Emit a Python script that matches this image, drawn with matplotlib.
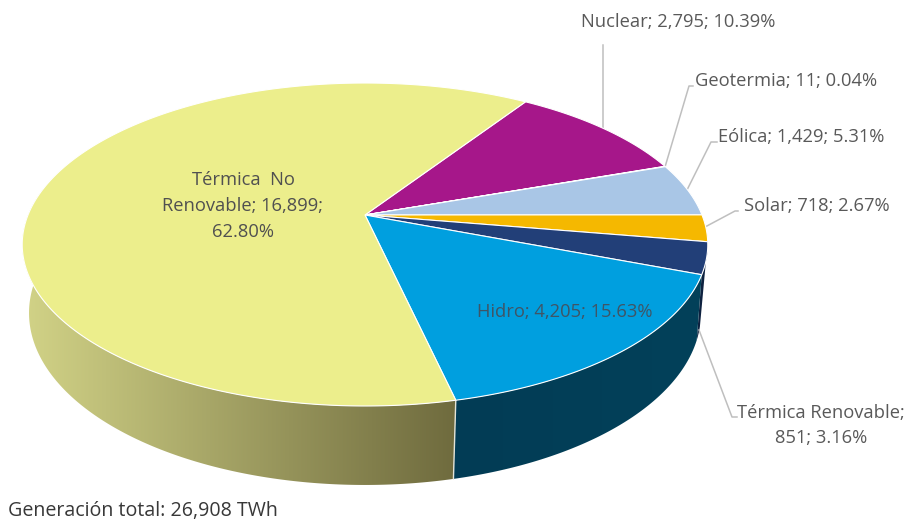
import numpy as np
import matplotlib
matplotlib.use('Agg')
from matplotlib import pyplot as plt
from matplotlib.colors import LinearSegmentedColormap
from matplotlib.patches import Polygon

names = ['Nuclear', 'Geotermia', 'Eólica', 'Solar', 'Térmica Renovable', 'Hidro', 'Térmica  No Renovable']
values = [2795, 11, 1429, 718, 851, 4205, 16899]
colors = ['#a6178a', '#7f7f7f', '#a9c6e6', '#f5b800', '#223f78', '#009fdf', '#ecee8c']
footer = 'Generación total: 26,908 TWh'

plt.rcParams['font.family'] = ['Open Sans', 'DejaVu Sans']
txt = '#595959'
line = '#bfbfbf'

# pie geometry, in pixels of the picture
start = 56.7
cx = 365
top = (215, 337, 156.1, 0.1827)   # y of apex, R, H, perspective
bottom = (298, 334.7, 170.7, 0.087)
# the walls do not meet the foot at the same angle as the top face
foot = -14
cut_foot = -76


def project(theta, geo):
    y0, R, H, k = geo
    t = np.radians(theta)
    u = np.cos(t)
    v = np.sin(t)
    s = 1 / (1 + k * v)
    return cx + R * u * s, y0 - H * v * s


def arc(t1, t2, geo):
    n = max(int(abs(t1 - t2) * 2), 2)
    return project(np.linspace(t1, t2, n), geo)


def wall(t1, t2, b1, b2, c1, c2):
    x1, y1 = arc(t1, t2, top)
    x2, y2 = arc(b1, b2, bottom)
    pts = np.column_stack([np.r_[x1, x2[::-1]], np.r_[y1, y2[::-1]]])
    poly = Polygon(pts, closed=True, facecolor='none', edgecolor='none')
    ax.add_patch(poly)
    xa = pts[:, 0].min()
    xb = pts[:, 0].max()
    cmap = LinearSegmentedColormap.from_list('w', [c1, c2])
    im = ax.imshow(np.linspace(0, 1, 256).reshape(1, -1), cmap=cmap, aspect='auto',
                   extent=(xa, xb, pts[:, 1].max(), pts[:, 1].min()), zorder=1)
    im.set_clip_path(poly)


fig = plt.figure(figsize=(9.06, 5.2), dpi=100)
ax = fig.add_axes([0, 0, 1, 1])

frac = np.array(values) / sum(values) * 360
ends = start - np.cumsum(frac)
starts = ends + frac

# side walls, only the ones seen from the front
wall(starts[4], ends[4], starts[4], foot, '#0e2240', '#0e2240')
wall(starts[5], ends[5], foot, cut_foot, '#023c55', '#03415a')
wall(ends[5], -190, cut_foot, -190, '#d2d387', '#6f6b3e')

# cut edge between hidro and termica
x1, y1 = project(ends[5], top)
x2, y2 = project(cut_foot, bottom)
ax.plot([x1, x2], [y1, y2], color='#e4e4d8', lw=1, zorder=2)

# top faces
for i in range(len(values)):
    x, y = arc(starts[i], ends[i], top)
    ax.fill(np.r_[cx, x], np.r_[top[0], y], facecolor=colors[i], edgecolor='white', lw=0.8, zorder=3)

# leader lines
ax.plot([603, 603], [45, 128], color=line, lw=1.1, zorder=2)
ax.plot([693, 689, 665], [86, 86, 167], color=line, lw=1.1, zorder=2)
ax.plot([717, 711, 687], [142, 142, 190], color=line, lw=1.1, zorder=2)
ax.plot([738, 735, 705], [211, 211, 227], color=line, lw=1.1, zorder=2)
ax.plot([737, 732, 699], [417, 417, 330], color=line, lw=1.1, zorder=2)


def label(i):
    return '%s; %s; %.2f%%' % (names[i], format(values[i], ','), values[i] / sum(values) * 100)


fs = 13.2
ax.text(678, 22, label(0), ha='center', va='center', color=txt, fontsize=fs, zorder=5)
ax.text(695, 81, label(1), ha='left', va='center', color=txt, fontsize=fs, zorder=5)
ax.text(718, 137, label(2), ha='left', va='center', color=txt, fontsize=fs, zorder=5)
ax.text(744, 206, label(3), ha='left', va='center', color=txt, fontsize=fs, zorder=5)
ax.text(821, 413, '%s;' % names[4], ha='center', va='center', color=txt, fontsize=fs, zorder=5)
ax.text(821, 438, '%s; %.2f%%' % (format(values[4], ','), values[4] / sum(values) * 100),
        ha='center', va='center', color=txt, fontsize=fs, zorder=5)
ax.text(565, 312, label(5), ha='center', va='center', color='#3f5566', fontsize=fs, zorder=5)
ax.text(243, 180, 'Térmica  No', ha='center', va='center', color='#505050', fontsize=fs, zorder=5)
ax.text(243, 206, 'Renovable; %s;' % format(values[6], ','), ha='center', va='center', color='#505050', fontsize=fs, zorder=5)
ax.text(243, 232, '%.2f%%' % (values[6] / sum(values) * 100), ha='center', va='center', color='#505050', fontsize=fs, zorder=5)
ax.text(8, 511, footer, ha='left', va='center', color='#383838', fontsize=14.1, zorder=5)

ax.set_xlim(0, 906)
ax.set_ylim(520, 0)
ax.axis('off')
fig.savefig('out.png', dpi=100)
